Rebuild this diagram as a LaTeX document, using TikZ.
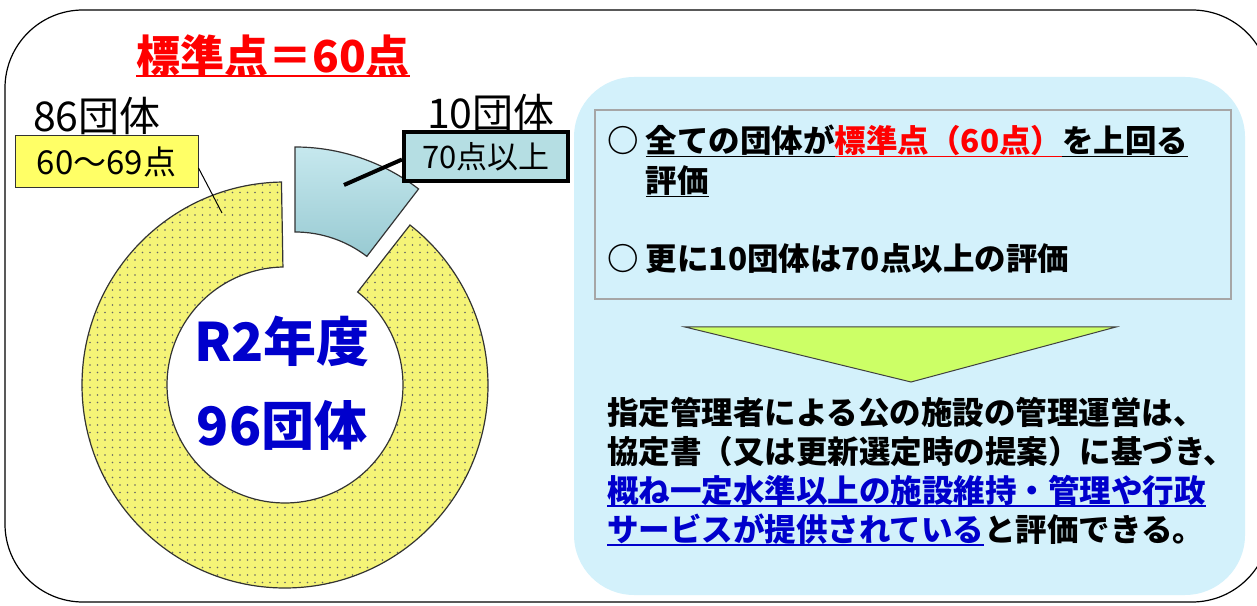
\documentclass[tikz,border=0pt]{standalone}
\usepackage{fontspec}
\setmainfont{Noto Sans CJK JP}
\usetikzlibrary{calc, positioning, patterns.meta}
\definecolor{ringyellow}{HTML}{F5F477}
\definecolor{slicetop}{HTML}{C6E8EE}
\definecolor{slicebottom}{HTML}{98CAD2}
\definecolor{labelyellow}{HTML}{FFFF66}
\definecolor{labelblue}{HTML}{B5DEE3}
\definecolor{panelblue}{HTML}{D3F1FB}
\definecolor{arrowgreen}{HTML}{CCFF66}
\definecolor{textblue}{HTML}{0000CC}
\newlength{\underwidth}
\newcommand{\ulined}[3][4.5pt]{\settowidth{\underwidth}{#3}\rlap{\rule[-#1]{\underwidth}{#2}}#3}
\tikzstyle{frame} = [draw=black, line width=1.2pt, rounded corners=78pt]
\tikzstyle{ringpart} = [draw=black!80, line width=1.2pt, preaction={fill=ringyellow}, pattern={Dots[distance=7.5pt, radius=0.85pt]}, pattern color=black!60]
\tikzstyle{slicepart} = [draw=black!80, line width=1.2pt, top color=slicetop, bottom color=slicebottom]
\tikzstyle{countlabel} = [inner sep=0pt, anchor=north west, font=\fontsize{41}{41}\selectfont]
\tikzstyle{rangebox} = [rectangle, minimum width=183pt, minimum height=52pt, inner sep=0pt, text centered, draw=black!80, line width=1pt, fill=labelyellow, font=\fontsize{33}{33}\selectfont]
\tikzstyle{topbox} = [rectangle, minimum width=164pt, minimum height=49pt, inner sep=0pt, text centered, draw=black, line width=4pt, fill=labelblue, font=\fontsize{31}{31}\selectfont]
\tikzstyle{leader} = [draw, line width=1pt]
\tikzstyle{thickleader} = [draw, line width=4pt]
\tikzstyle{panel} = [fill=panelblue, rounded corners=60pt]
\tikzstyle{pointbox} = [draw=black!35, line width=1.5pt]
\tikzstyle{paneltext} = [inner sep=0pt, anchor=north west, align=left, font=\bfseries\fontsize{31.5}{40}\selectfont]
\tikzstyle{downarrow} = [draw=black!75, line width=1pt, fill=arrowgreen]

\begin{document}
\begin{tikzpicture}[x=1pt, y=1pt]
  \useasboundingbox (0,0) rectangle (1257,605);
  \clip (0,0) rectangle (1257,605);
  \draw [frame] (5,3) rectangle (1270,595);

  \node (title) [inner sep=0pt, anchor=north, text=red, font=\bfseries\fontsize{44}{44}\selectfont] at (273,571)
    {\ulined[5pt]{2.5pt}{標準点＝60点}};

  \coordinate (ring) at (285,220);
  \coordinate (slice) at (295,255);
  \path [ringpart] ($(ring)+(91:203)$) arc [start angle=91, end angle=412, radius=203]
    -- ($(ring)+(412:118)$) arc [start angle=412, end angle=91, radius=118] -- cycle;
  \path [slicepart] ($(slice)+(90:203)$) arc [start angle=90, end angle=52.5, radius=203]
    -- ($(slice)+(52.5:118)$) arc [start angle=52.5, end angle=90, radius=118] -- cycle;

  \node (total) [align=center, text=textblue, font=\bfseries\fontsize{53}{84}\selectfont] at (282,222) {R2年度\\96団体};

  \node (lowcount) [countlabel] at (33,508) {86団体};
  \node (lowrange) [rangebox] at (106.5,443) {60～69点};
  \coordinate (lowtip) at (222,392);
  \path [leader] ([yshift=-6pt]lowrange.east) -- (lowtip);

  \node (highcount) [countlabel] at (427,511) {10団体};
  \node (highrange) [topbox] at (486,448.5) {70点以上};
  \coordinate (hightip) at (344,420);
  \path [thickleader] ([yshift=-3pt]highrange.west) -- (hightip);

  \path [panel] (574,528) rectangle (1245,10);
  \draw [pointbox] (595,495) rectangle (1231,306);
  \node (pointa) [paneltext] at (607,480)
    {○ \ulined{1.6pt}{全ての団体が}\textcolor{red}{\ulined{1.6pt}{標準点（60点）}}\ulined{1.6pt}{を上回る}\\\phantom{○ }\ulined{1.6pt}{評価}};
  \node (pointb) [paneltext] at (607,362) {○ 更に10団体は70点以上の評価};

  \path [downarrow] (685,278) -- (1116,278) -- (911,223) -- cycle;

  \node (summary) [paneltext, font=\bfseries\fontsize{31.5}{39}\selectfont] at (607,208)
    {指定管理者による公の施設の管理運営は、\\協定書（又は更新選定時の提案）に基づき、\\\textcolor{textblue}{\ulined{1.6pt}{概ね一定水準以上の施設維持・管理や行政}}\\\textcolor{textblue}{\ulined{1.6pt}{サービスが提供されている}}と評価できる。};
\end{tikzpicture}
\end{document}
